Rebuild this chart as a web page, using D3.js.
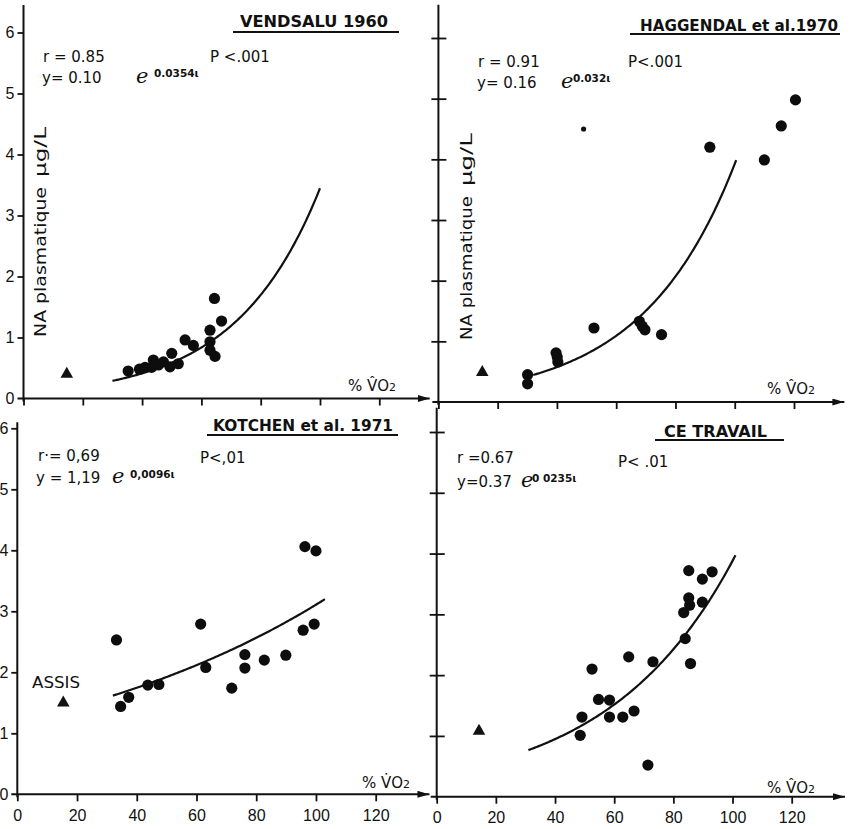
<!DOCTYPE html>
<html>
<head>
<meta charset="utf-8">
<script src="https://cdn.jsdelivr.net/npm/d3@7"></script>
<style>
  body { margin: 0; background: #fff; }
  svg { display: block; font-family: "DejaVu Sans", "Liberation Sans", sans-serif; }
  .axis text { font-size: 16px; fill: #111; }
  .axis line { stroke: #111; stroke-width: 1.8; }
</style>
</head>
<body>
<svg id="chart" width="851" height="829"></svg>
<script>
// ---- data ----
var xTickValues = [0, 20, 40, 60, 80, 100, 120]
var yTickValues = [0, 1, 2, 3, 4, 5, 6]

var titles = ["VENDSALU  1960", "HAGGENDAL et al.1970", "KOTCHEN et al.  1971", "CE  TRAVAIL"]
var rTexts = ["r = 0.85", "r = 0.91", "r\u00b7= 0,69", "r =0.67"]
var pTexts = ["P <.001", "P<.001", "P<,01", "P< .01"]
var eqTexts = ["y= 0.10", "y= 0.16", "y = 1,19", "y=0.37"]
var expTexts = ["0.0354\u03b9", "0.032\u03b9", "0,0096\u03b9", "0 0235\u03b9"]

// fitted curves  y = a e^(b x)
var fitA = [0.10, 0.16, 1.19, 0.37]
var fitB = [0.0354, 0.032, 0.0096, 0.0235]
var fitFrom = [30, 32, 32, 31]
var fitTo = [100, 100.5, 103, 101]

// seated (ASSIS) reference value, triangle
var seatedX = [14.6, 14.8, 15.4, 14.3]
var seatedY = [0.40, 0.49, 1.50, 1.08]

var vendsaluX = [35.3, 39.1, 41.0, 43.8, 43.2, 45.5, 47.2, 50.0, 49.4, 52.2, 54.5, 57.3, 62.9, 62.9, 62.9, 64.6, 66.8, 64.4]
var vendsaluY = [0.45, 0.48, 0.51, 0.63, 0.51, 0.55, 0.60, 0.74, 0.52, 0.57, 0.96, 0.87, 1.12, 0.93, 0.79, 0.69, 1.27, 1.64]

var haggendalX = [30.1, 30.1, 39.7, 40.1, 40.3, 52.5, 67.8, 68.8, 69.7, 75.3, 91.6, 110, 115.7, 120.5]
var haggendalY = [0.45, 0.30, 0.81, 0.74, 0.66, 1.22, 1.33, 1.25, 1.19, 1.11, 4.2, 3.99, 4.55, 4.98]
var haggendalSmallX = [49]
var haggendalSmallY = [4.5]

var kotchenX = [33.2, 34.6, 37.3, 43.7, 47.4, 61.4, 63.1, 71.8, 76.2, 76.2, 82.7, 89.9, 95.7, 99.4, 96.3, 100]
var kotchenY = [2.53, 1.44, 1.59, 1.79, 1.80, 2.79, 2.08, 1.74, 2.29, 2.07, 2.20, 2.28, 2.69, 2.79, 4.06, 3.99]

var travailX = [48.5, 49.1, 52.5, 54.7, 58.4, 58.4, 62.9, 64.9, 66.7, 71.4, 73.1, 84.0, 85.8, 83.5, 85.5, 85.2, 89.8, 85.2, 89.8, 93.1]
var travailY = [1.01, 1.31, 2.10, 1.60, 1.59, 1.31, 1.31, 2.30, 1.41, 0.52, 2.22, 2.60, 2.19, 3.03, 3.15, 3.27, 3.20, 3.72, 3.58, 3.70]

// ---- layout of the four panels (pixels) ----
var layout = [
  { xr: [23.5, 379.3], yr: [398.5, 32.5], yLabels: true, xLabels: false, xEnd: 137, yTop: 6.45,
    title: [240, 27, 148], under: [233, 399, 32], r: [43, 62], p: [210, 62], eq: [42, 83], e: [136, 83], ex: [154, 77],
    yl: [46, 337, 187, 177, 127], vo: [348, 391], vdot: false,
    xs: vendsaluX, ys: vendsaluY },
  { xr: [438.4, 794], yr: [402, 38], yLabels: false, xLabels: false, xEnd: 137, yTop: 6.55,
    title: [640, 31, 198], under: [630, 840, 34], r: [478, 67], p: [628, 67], eq: [477, 88], e: [561, 88], ex: [573, 82],
    yl: [472, 340, 196, 186, 133], vo: [767, 394], vdot: false,
    xs: haggendalX, ys: haggendalY },
  { xr: [17.3, 375.7], yr: [794.3, 428.3], yLabels: true, xLabels: true, xEnd: 138, yTop: 6.1,
    title: [213, 431, 180], under: [207, 398, 435], r: [38, 461], p: [200, 463], eq: [36, 483], e: [112, 483], ex: [130, 478],
    yl: null, vo: [362, 788], vdot: true,
    xs: kotchenX, ys: kotchenY },
  { xr: [436.7, 791.7], yr: [796.7, 432], yLabels: false, xLabels: true, xEnd: 138, yTop: 6.4,
    title: [664, 437, 103], under: [655, 784, 440], r: [457, 463], p: [618, 467], eq: [457, 487], e: [521, 487], ex: [532, 482],
    yl: null, vo: [767, 793], vdot: false,
    xs: travailX, ys: travailY }
]

var svg = d3.select("#chart")

svg.append("defs").append("marker")
  .attr("id", "arrow")
  .attr("viewBox", "0 0 12 7")
  .attr("refX", 12).attr("refY", 3.5)
  .attr("markerWidth", 12).attr("markerHeight", 7)
  .attr("markerUnits", "userSpaceOnUse")
  .attr("orient", "auto")
  .append("path").attr("d", "M0,0L12,3.5L0,7Z").attr("fill", "#111")

layout.forEach(function(L, i) {
  var x = d3.scaleLinear().domain([0, 120]).range(L.xr)
  var y = d3.scaleLinear().domain([0, 6]).range(L.yr)
  var g = svg.append("g")

  // x axis
  var gx = g.append("g").attr("class", "axis")
    .attr("transform", "translate(0," + y(0) + ")")
    .call(d3.axisBottom(x).tickValues(xTickValues).tickSize(7).tickPadding(8)
      .tickFormat(L.xLabels ? d3.format("d") : ""))
  gx.select(".domain").remove()
  g.append("line")
    .attr("x1", x(0) - 6).attr("x2", x(L.xEnd))
    .attr("y1", y(0)).attr("y2", y(0))
    .attr("stroke", "#111").attr("stroke-width", 2)
    .attr("marker-end", "url(#arrow)")

  // y axis
  var gy = g.append("g").attr("class", "axis")
    .attr("transform", "translate(" + x(0) + ",0)")
    .call(d3.axisLeft(y).tickValues(yTickValues).tickSize(6).tickPadding(3)
      .tickFormat(L.yLabels ? d3.format("d") : ""))
  gy.select(".domain").remove()
  if (!L.yLabels) {
    gy.selectAll(".tick").filter(function(d) { return d > 0 })
      .select("line").attr("x1", 8).attr("x2", -7)
    gy.selectAll(".tick").filter(function(d) { return d === 0 }).remove()
  } else {
    gy.selectAll(".tick").filter(function(d) { return d === 0 }).select("line").remove()
  }
  g.append("line")
    .attr("x1", x(0)).attr("x2", x(0))
    .attr("y1", y(-0.05)).attr("y2", y(L.yTop))
    .attr("stroke", "#111").attr("stroke-width", 2)

  // fitted curve
  var xsFit = d3.range(fitFrom[i], fitTo[i], 0.5).concat([fitTo[i]])
  g.append("path")
    .datum(xsFit)
    .attr("fill", "none")
    .attr("stroke", "#111")
    .attr("stroke-width", 2.2)
    .attr("d", d3.line()
      .x(function(d) { return x(d) })
      .y(function(d) { return y(fitA[i] * Math.exp(fitB[i] * d)) }))

  // points
  g.selectAll("circle.pt")
    .data(d3.range(L.xs.length))
    .join("circle")
    .attr("class", "pt")
    .attr("cx", function(k) { return x(L.xs[k]) })
    .attr("cy", function(k) { return y(L.ys[k]) })
    .attr("r", 5.6)
    .attr("fill", "#0d0d0d")

  if (i === 1) {
    g.selectAll("circle.small")
      .data(d3.range(haggendalSmallX.length))
      .join("circle")
      .attr("class", "small")
      .attr("cx", function(k) { return x(haggendalSmallX[k]) })
      .attr("cy", function(k) { return y(haggendalSmallY[k]) })
      .attr("r", 2.6)
      .attr("fill", "#111")
  }

  // seated triangle
  g.append("path")
    .attr("d", d3.symbol(d3.symbolTriangle).size(68))
    .attr("transform", "translate(" + x(seatedX[i]) + "," + y(seatedY[i]) + ")")
    .attr("fill", "#111")

  // title with underline
  g.append("text")
    .attr("x", L.title[0]).attr("y", L.title[1])
    .attr("textLength", L.title[2]).attr("lengthAdjust", "spacingAndGlyphs")
    .style("font-size", "15px").style("font-weight", "bold")
    .attr("fill", "#111")
    .text(titles[i])
  g.append("line")
    .attr("x1", L.under[0]).attr("x2", L.under[1])
    .attr("y1", L.under[2]).attr("y2", L.under[2])
    .attr("stroke", "#111").attr("stroke-width", 2)

  // statistics
  var st = g.append("g").attr("fill", "#111").style("font-size", "15px")
  st.append("text").attr("x", L.r[0]).attr("y", L.r[1]).text(rTexts[i])
  st.append("text").attr("x", L.p[0]).attr("y", L.p[1]).text(pTexts[i])
  st.append("text").attr("x", L.eq[0]).attr("y", L.eq[1]).text(eqTexts[i])
  st.append("text").attr("x", L.e[0]).attr("y", L.e[1])
    .style("font-family", "'DejaVu Serif', serif").style("font-size", "21px").style("font-style", "italic")
    .text("e")
  st.append("text").attr("x", L.ex[0]).attr("y", L.ex[1])
    .style("font-size", "10.5px").style("font-weight", "bold")
    .text(expTexts[i])

  // % VO2 label
  var vo = g.append("text").attr("x", L.vo[0]).attr("y", L.vo[1])
    .attr("fill", "#111").style("font-size", "15px")
  vo.append("tspan").text("% ")
  vo.append("tspan").text(L.vdot ? "V\u0307O" : "V\u0302O")
  vo.append("tspan").style("font-size", "11px").text("2")

  // y axis title
  if (L.yl) {
    g.append("text")
      .attr("transform", "translate(" + L.yl[0] + "," + L.yl[1] + ") rotate(-90)")
      .attr("textLength", L.yl[1] - L.yl[2]).attr("lengthAdjust", "spacingAndGlyphs")
      .style("font-size", "16px").attr("fill", "#111")
      .text("NA plasmatique")
    g.append("text")
      .attr("transform", "translate(" + L.yl[0] + "," + L.yl[3] + ") rotate(-90)")
      .attr("textLength", L.yl[3] - L.yl[4]).attr("lengthAdjust", "spacingAndGlyphs")
      .style("font-size", "16px").attr("fill", "#111")
      .text("\u03bcg/L")
  }

  if (i === 2) {
    g.append("text")
      .attr("x", 32).attr("y", 688)
      .attr("textLength", 48).attr("lengthAdjust", "spacingAndGlyphs")
      .style("font-size", "15px").attr("fill", "#111")
      .text("ASSIS")
  }
})
</script>
</body>
</html>
